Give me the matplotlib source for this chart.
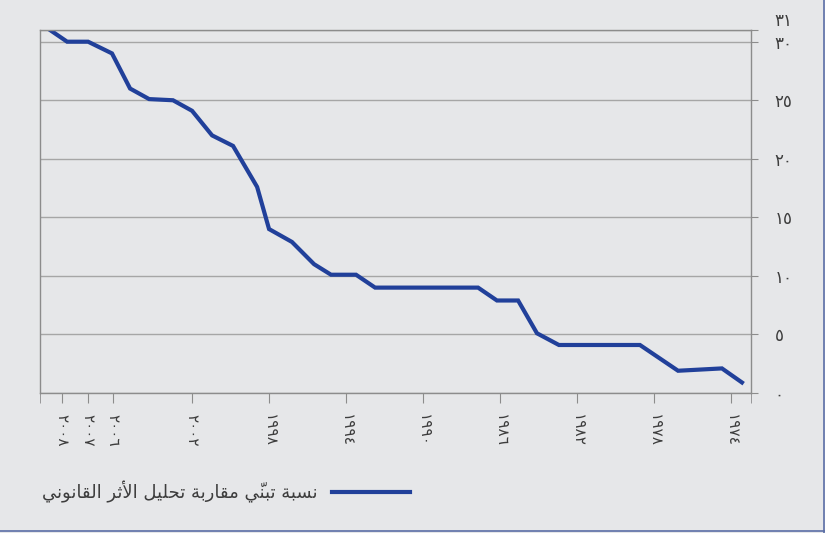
import matplotlib
matplotlib.use("Agg")
import matplotlib.pyplot as plt
from matplotlib.lines import Line2D

# ---- data ----
years = [2009.38, 2008.49, 2007.40, 2006.16, 2005.22, 2004.23, 2002.99, 2002.0,
         2000.96, 1999.87, 1998.62, 1998.0, 1996.81, 1995.66, 1994.78, 1993.48,
         1992.49, 1987.14, 1986.16, 1985.06, 1984.08, 1982.94, 1978.73, 1976.75,
         1974.47, 1973.43]
share = [31, 30, 30, 29, 26, 25.1, 25, 24.1,
         22, 21.1, 17.6, 14, 12.9, 11, 10.1, 10.1,
         9, 9, 7.9, 7.9, 5.1, 4.1, 4.1, 1.9,
         2.1, 0.9]
xtick_pos = [2008.75, 2007.40, 2006.10, 2002, 1998, 1994, 1990, 1986, 1982, 1978, 1974]
xtick_lab = ["2008", "2007", "2006", "2002", "1998", "1994", "1990", "1986", "1982", "1978", "1974"]
ytick_pos = [0, 5, 10, 15, 20, 25, 30, 31]
legend_label = "نسبة تبنّي مقاربة تحليل الأثر القانوني"

# ---- small arabic shaping (matplotlib has no shaping/bidi) ----
FORMS = {
    'ا': ('\uFE8D', '\uFE8E', None, None),
    'أ': ('\uFE83', '\uFE84', None, None),
    'ب': ('\uFE8F', '\uFE90', '\uFE91', '\uFE92'),
    'ة': ('\uFE93', '\uFE94', None, None),
    'ت': ('\uFE95', '\uFE96', '\uFE97', '\uFE98'),
    'ث': ('\uFE99', '\uFE9A', '\uFE9B', '\uFE9C'),
    'ح': ('\uFEA1', '\uFEA2', '\uFEA3', '\uFEA4'),
    'ر': ('\uFEAD', '\uFEAE', None, None),
    'س': ('\uFEB1', '\uFEB2', '\uFEB3', '\uFEB4'),
    'ق': ('\uFED5', '\uFED6', '\uFED7', '\uFED8'),
    'ل': ('\uFEDD', '\uFEDE', '\uFEDF', '\uFEE0'),
    'م': ('\uFEE1', '\uFEE2', '\uFEE3', '\uFEE4'),
    'ن': ('\uFEE5', '\uFEE6', '\uFEE7', '\uFEE8'),
    'و': ('\uFEED', '\uFEEE', None, None),
    'ي': ('\uFEF1', '\uFEF2', '\uFEF3', '\uFEF4'),
}
LAM_ALEF = {'ا': ('\uFEFB', '\uFEFC'), 'أ': ('\uFEF7', '\uFEF8')}
MARKS = {'\u0651'}


def shape_ar(text):
    n = len(text)
    res = []

    def prev_joins(i):
        j = i - 1
        while j >= 0 and text[j] in MARKS:
            j -= 1
        if j < 0:
            return False
        c = text[j]
        return c in FORMS and FORMS[c][2] is not None

    def next_letter(i):
        j = i + 1
        while j < n and text[j] in MARKS:
            j += 1
        return text[j] if j < n else None

    i = 0
    while i < n:
        c = text[i]
        if c in MARKS:
            # mark glyph is drawn to the right of the pen, so put it first
            res[-1] = c + res[-1]
            i += 1
            continue
        if c not in FORMS:
            res.append(c)
            i += 1
            continue
        p = prev_joins(i)
        nx = next_letter(i)
        if c == 'ل' and nx in LAM_ALEF:
            lig = LAM_ALEF[nx]
            res.append(lig[1] if p else lig[0])
            j = i + 1
            while text[j] in MARKS:
                j += 1
            i = j + 1
            continue
        f = FORMS[c]
        nj = f[2] is not None and nx is not None and nx in FORMS
        if p and nj:
            g = f[3]
        elif p:
            g = f[1]
        elif nj:
            g = f[2]
        else:
            g = f[0]
        res.append(g)
        i += 1
    return ''.join(reversed(res))


def ar_digits(s):
    return ''.join(chr(0x0660 + int(ch)) if ch.isdigit() else ch for ch in str(s))


# ---- plot ----
bg = "#e6e7e9"
txt = "#3d3d3d"
blue = "#21409a"

plt.rcParams['font.family'] = ['DejaVu Sans']
fig = plt.figure(figsize=(8.25, 5.33), dpi=100, facecolor=bg)
ax = fig.add_axes([40 / 825, 1 - 393 / 533, 711 / 825, 363 / 533])
ax.set_facecolor(bg)

ax.plot(years, share, color=blue, lw=3, solid_joinstyle='miter',
        label=shape_ar(legend_label))

ax.set_xlim(2009.9, 1972.96)
ax.set_ylim(0, 31)

ax.set_xticks(xtick_pos)
ax.set_xticklabels([ar_digits(t) for t in xtick_lab], rotation=-90,
                   fontsize=11, color=txt)
ax.set_xticks([2009.9, 1972.96], minor=True)
ax.tick_params(axis='x', which='both', direction='out', length=7,
               color='#8c8c8c', pad=8)

ax.yaxis.tick_right()
ax.set_yticks(ytick_pos)
ax.set_yticklabels([ar_digits(t) for t in ytick_pos], fontsize=12, color=txt)
ax.tick_params(axis='y', direction='out', length=5, color='#8c8c8c', pad=12)
for lab, v in zip(ax.get_yticklabels(), ytick_pos):
    if v == 31:
        lab.set_va('bottom')

ax.grid(axis='y', color='#a6a6a6', lw=1)
ax.set_axisbelow(True)
for s in ax.spines.values():
    s.set_color('#8c8c8c')
    s.set_linewidth(1)

fig.legend(loc='center left', bbox_to_anchor=(26 / 825, 1 - 492 / 533),
           frameon=False, markerfirst=False, handlelength=4.3,
           fontsize=13, labelcolor=txt, handletextpad=0.8)

# outer frame (right and bottom edges)
fig.add_artist(Line2D([0.9985, 0.9985], [0, 1], transform=fig.transFigure,
                      color='#5b6ea6', lw=1.2))
fig.add_artist(Line2D([0, 1], [0.003, 0.003], transform=fig.transFigure,
                      color='#5b6ea6', lw=1.2))

plt.savefig("out.png", dpi=100, facecolor=bg)
